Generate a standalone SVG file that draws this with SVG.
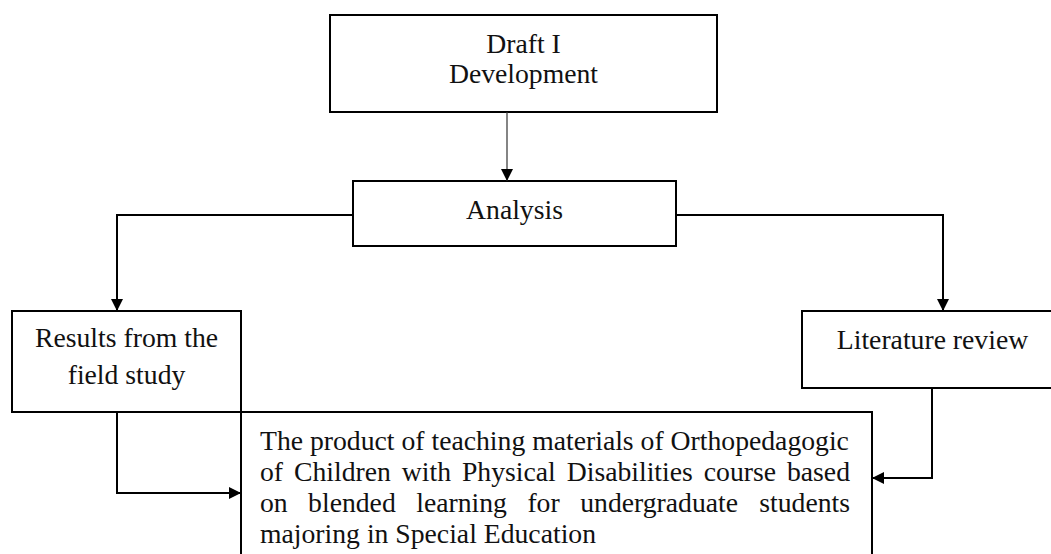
<svg xmlns="http://www.w3.org/2000/svg" width="1051" height="554" viewBox="0 0 1051 554">
<style>
.box{fill:#fff;stroke:#000;stroke-width:2}
.t{font-family:"Liberation Serif","Times New Roman",serif;font-size:27.7px;fill:#111}
.c{text-anchor:middle}
.e{text-anchor:end}
.ln{fill:none;stroke:#000;stroke-width:2}
.thin{fill:none;stroke:#333;stroke-width:1.2}
</style>
<defs>
<marker id="ah" markerUnits="userSpaceOnUse" markerWidth="13" markerHeight="12" refX="12" refY="6" orient="auto" viewBox="0 0 13 12">
<path d="M0,0 L12,6 L0,12 z" fill="#000"/>
</marker>
</defs>
<rect width="1051" height="554" fill="#fff"/>
<g id="draft">
<rect class="box" x="330" y="15" width="387" height="97" stroke-width="2.5"/>
<text class="t c" x="523.5" y="53">Draft I</text>
<text class="t c" x="523.5" y="83">Development</text>
</g>
<g id="analysis">
<rect class="box" x="353" y="181" width="323" height="65"/>
<text class="t c" x="514.5" y="219">Analysis</text>
</g>
<g id="results">
<rect class="box" x="12" y="311" width="229" height="101"/>
<text class="t c" x="126.5" y="347">Results from the</text>
<text class="t c" x="126.5" y="384">field study</text>
</g>
<g id="literature">
<rect class="box" x="802" y="311" width="260" height="77"/>
<text class="t c" x="932.5" y="349">Literature review</text>
</g>
<g id="product">
<rect class="box" x="241" y="412" width="631" height="150"/>
<text class="t" x="260" y="450">The product of teaching materials of Orthopedagogic</text>
<text class="t" y="481"><tspan x="260">of</tspan><tspan x="294">Children</tspan><tspan x="401.8">with</tspan><tspan x="461.9">Physical</tspan><tspan x="566.7">Disabilities</tspan><tspan x="703.8">course</tspan></text>
<text class="t e" x="850" y="481">based</text>
<text class="t" y="512"><tspan x="260">on</tspan><tspan x="308.1">blended</tspan><tspan x="416.2">learning</tspan><tspan x="527.4">for</tspan><tspan x="580.2">undergraduate</tspan></text>
<text class="t e" x="850" y="512">students</text>
<text class="t" x="260" y="543">majoring in Special Education</text>
</g>
<g id="connectors">
<path class="thin" d="M507,112 V181" marker-end="url(#ah)"/>
<path class="ln" d="M353,215 H117 V311" marker-end="url(#ah)"/>
<path class="ln" d="M676,215 H943 V311" marker-end="url(#ah)"/>
<path class="ln" d="M117,412 V493 H241" stroke-width="2.5" marker-end="url(#ah)"/>
<path class="ln" d="M932,388 V478 H872" marker-end="url(#ah)"/>
</g>
</svg>
